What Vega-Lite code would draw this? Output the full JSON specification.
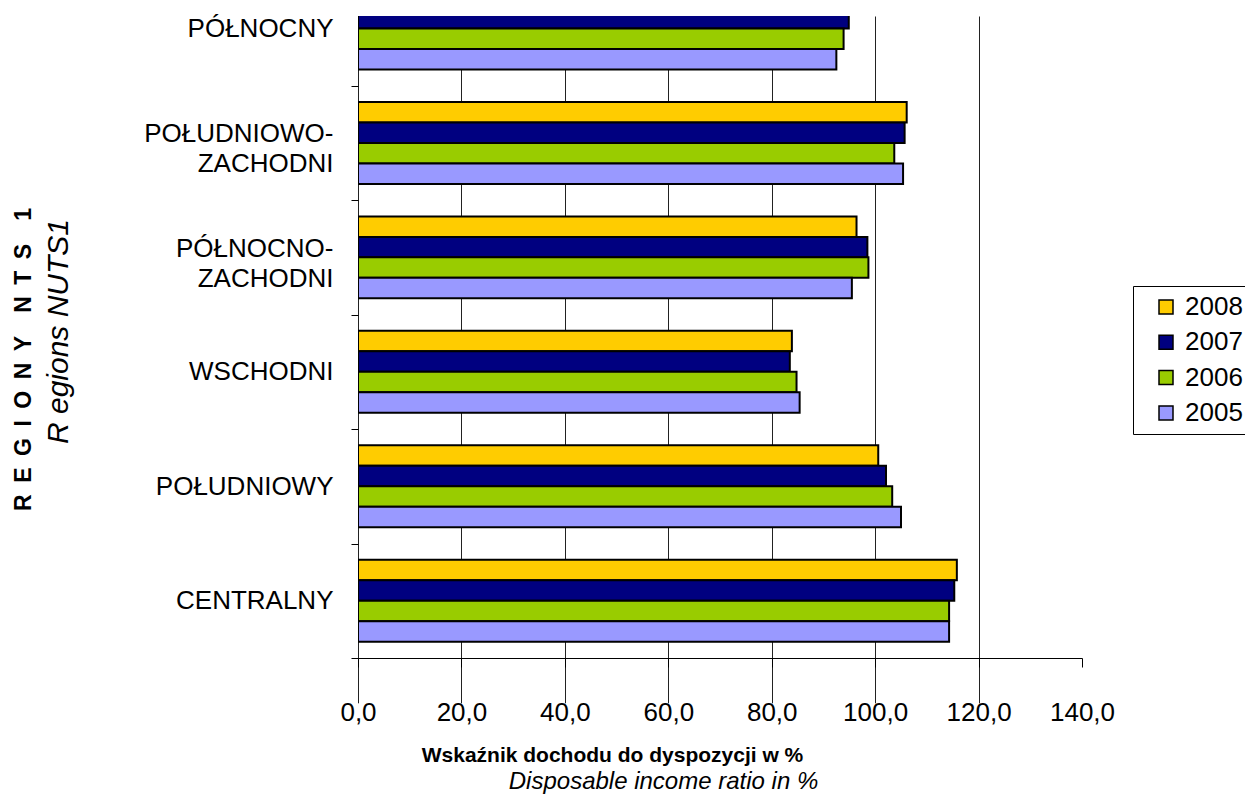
{
  "$schema": "https://vega.github.io/schema/vega-lite/v6.json",
  "width": 724,
  "height": 642,
  "autosize": {"type": "none"},
  "padding": {"left": 358, "top": 16, "right": 163, "bottom": 136},
  "background": "white",
  "config": {
    "view": {"stroke": null},
    "font": "Liberation Sans",
    "axis": {"labelFont": "Liberation Sans", "titleFont": "Liberation Sans"},
    "legend": {"labelFont": "Liberation Sans"}
  },
  "data": {
    "values": [
      {"region": "PÓŁNOCNY", "year": "2007", "value": 94.9},
      {"region": "PÓŁNOCNY", "year": "2006", "value": 93.9},
      {"region": "PÓŁNOCNY", "year": "2005", "value": 92.5},
      {"region": "POŁUDNIOWO-ZACHODNI", "year": "2008", "value": 106.1},
      {"region": "POŁUDNIOWO-ZACHODNI", "year": "2007", "value": 105.7},
      {"region": "POŁUDNIOWO-ZACHODNI", "year": "2006", "value": 103.7},
      {"region": "POŁUDNIOWO-ZACHODNI", "year": "2005", "value": 105.4},
      {"region": "PÓŁNOCNO-ZACHODNI", "year": "2008", "value": 96.4},
      {"region": "PÓŁNOCNO-ZACHODNI", "year": "2007", "value": 98.5},
      {"region": "PÓŁNOCNO-ZACHODNI", "year": "2006", "value": 98.7},
      {"region": "PÓŁNOCNO-ZACHODNI", "year": "2005", "value": 95.5},
      {"region": "WSCHODNI", "year": "2008", "value": 83.9},
      {"region": "WSCHODNI", "year": "2007", "value": 83.5},
      {"region": "WSCHODNI", "year": "2006", "value": 84.8},
      {"region": "WSCHODNI", "year": "2005", "value": 85.4},
      {"region": "POŁUDNIOWY", "year": "2008", "value": 100.6},
      {"region": "POŁUDNIOWY", "year": "2007", "value": 102.1},
      {"region": "POŁUDNIOWY", "year": "2006", "value": 103.3},
      {"region": "POŁUDNIOWY", "year": "2005", "value": 105.0},
      {"region": "CENTRALNY", "year": "2008", "value": 115.8},
      {"region": "CENTRALNY", "year": "2007", "value": 115.3},
      {"region": "CENTRALNY", "year": "2006", "value": 114.3},
      {"region": "CENTRALNY", "year": "2005", "value": 114.3}
    ]
  },
  "resolve": {"axis": {"x": "independent", "y": "independent"}},
  "layer": [
    {
      "mark": {"type": "bar", "stroke": "black", "strokeWidth": 2, "clip": true},
      "encoding": {
        "y": {
          "field": "region",
          "type": "nominal",
          "sort": ["PÓŁNOCNY", "POŁUDNIOWO-ZACHODNI", "PÓŁNOCNO-ZACHODNI", "WSCHODNI", "POŁUDNIOWY", "CENTRALNY"],
          "scale": {"range": [-44.8, 642], "paddingInner": 0.284, "paddingOuter": 0.142},
          "axis": {
            "orient": "left",
            "title": "R\u2002E\u2002G\u2002I\u2002O\u2002N\u2002Y\u2003N\u2002T\u2002S\u20031",
            "titleFontSize": 23,
            "titleFontWeight": "bold",
            "titleColor": "black",
            "titleX": -335,
            "titleY": 343,
            "titleAngle": -90,
            "titleAlign": "center",
            "titleBaseline": "middle",
            "labelExpr": "indexof(datum.label, '-') > 0 ? [slice(datum.label, 0, indexof(datum.label, '-') + 1), slice(datum.label, indexof(datum.label, '-') + 1)] : datum.label",
            "labelFontSize": 26,
            "labelColor": "black",
            "labelPadding": 18,
            "labelLineHeight": 30,
            "labelLimit": 0,
            "tickOffset": 57.24,
            "labelOffset": {"condition": {"test": "indexof(datum.value, '-') > 0", "value": -66.24}, "value": -57.24},
            "tickSize": 7,
            "tickColor": "black",
            "domain": false,
            "grid": false
          }
        },
        "yOffset": {
          "field": "year",
          "type": "nominal",
          "sort": ["2008", "2007", "2006", "2005"]
        },
        "x": {
          "field": "value",
          "type": "quantitative",
          "scale": {"domain": [0, 140], "nice": false},
          "axis": {
            "orient": "bottom",
            "values": [0, 20, 40, 60, 80, 100, 120, 140],
            "labelExpr": "replace(format(datum.value, '.1f'), '.', ',')",
            "labelFontSize": 26,
            "labelColor": "black",
            "labelPadding": 32,
            "labelFlush": false,
            "labelOverlap": false,
            "tickSize": 9,
            "tickColor": "black",
            "domainColor": "black",
            "domainWidth": 1,
            "grid": true,
            "gridColor": "#222222",
            "gridWidth": 1,
            "gridOpacity": {"condition": {"test": "datum.value === 140", "value": 0}, "value": 1},
            "title": "Wskaźnik dochodu do dyspozycji w %",
            "titleFontSize": 21,
            "titleFontWeight": "bold",
            "titleColor": "black",
            "titleX": 254,
            "titleY": 97,
            "titleAlign": "center",
            "titleBaseline": "middle"
          }
        },
        "color": {
          "field": "year",
          "type": "nominal",
          "scale": {"domain": ["2008", "2007", "2006", "2005"], "range": ["#FFCC00", "#000080", "#99CC00", "#9999FF"]},
          "legend": {
            "orient": "none",
            "legendX": 775,
            "legendY": 270,
            "title": null,
            "strokeColor": "black",
            "fillColor": "white",
            "padding": 8,
            "symbolOffset": 12,
            "symbolType": "square",
            "symbolSize": 196,
            "symbolStrokeColor": "black",
            "symbolStrokeWidth": 1.5,
            "labelExpr": "datum.label + '\u2003'",
            "labelFontSize": 26,
            "labelColor": "black",
            "labelOffset": 6,
            "rowPadding": 9.3
          }
        }
      }
    },
    {
      "mark": {"type": "bar", "opacity": 0},
      "encoding": {
        "y": {
          "field": "region",
          "type": "nominal",
          "sort": ["PÓŁNOCNY", "POŁUDNIOWO-ZACHODNI", "PÓŁNOCNO-ZACHODNI", "WSCHODNI", "POŁUDNIOWY", "CENTRALNY"],
          "axis": {
            "orient": "left",
            "labels": false,
            "ticks": false,
            "domain": false,
            "grid": false,
            "title": "R egions NUTS1",
            "titleFontSize": 30,
            "titleFontWeight": "normal",
            "titleFontStyle": "italic",
            "titleColor": "black",
            "titleX": -300,
            "titleY": 315,
            "titleAngle": -90,
            "titleAlign": "center",
            "titleBaseline": "middle"
          }
        },
        "x": {
          "field": "value",
          "type": "quantitative",
          "axis": {
            "orient": "bottom",
            "labels": false,
            "ticks": false,
            "domain": false,
            "grid": false,
            "title": "Disposable income ratio in %",
            "titleFontSize": 24,
            "titleFontWeight": "normal",
            "titleFontStyle": "italic",
            "titleColor": "black",
            "titleX": 305,
            "titleY": 123,
            "titleAlign": "center",
            "titleBaseline": "middle"
          }
        }
      }
    }
  ]
}
